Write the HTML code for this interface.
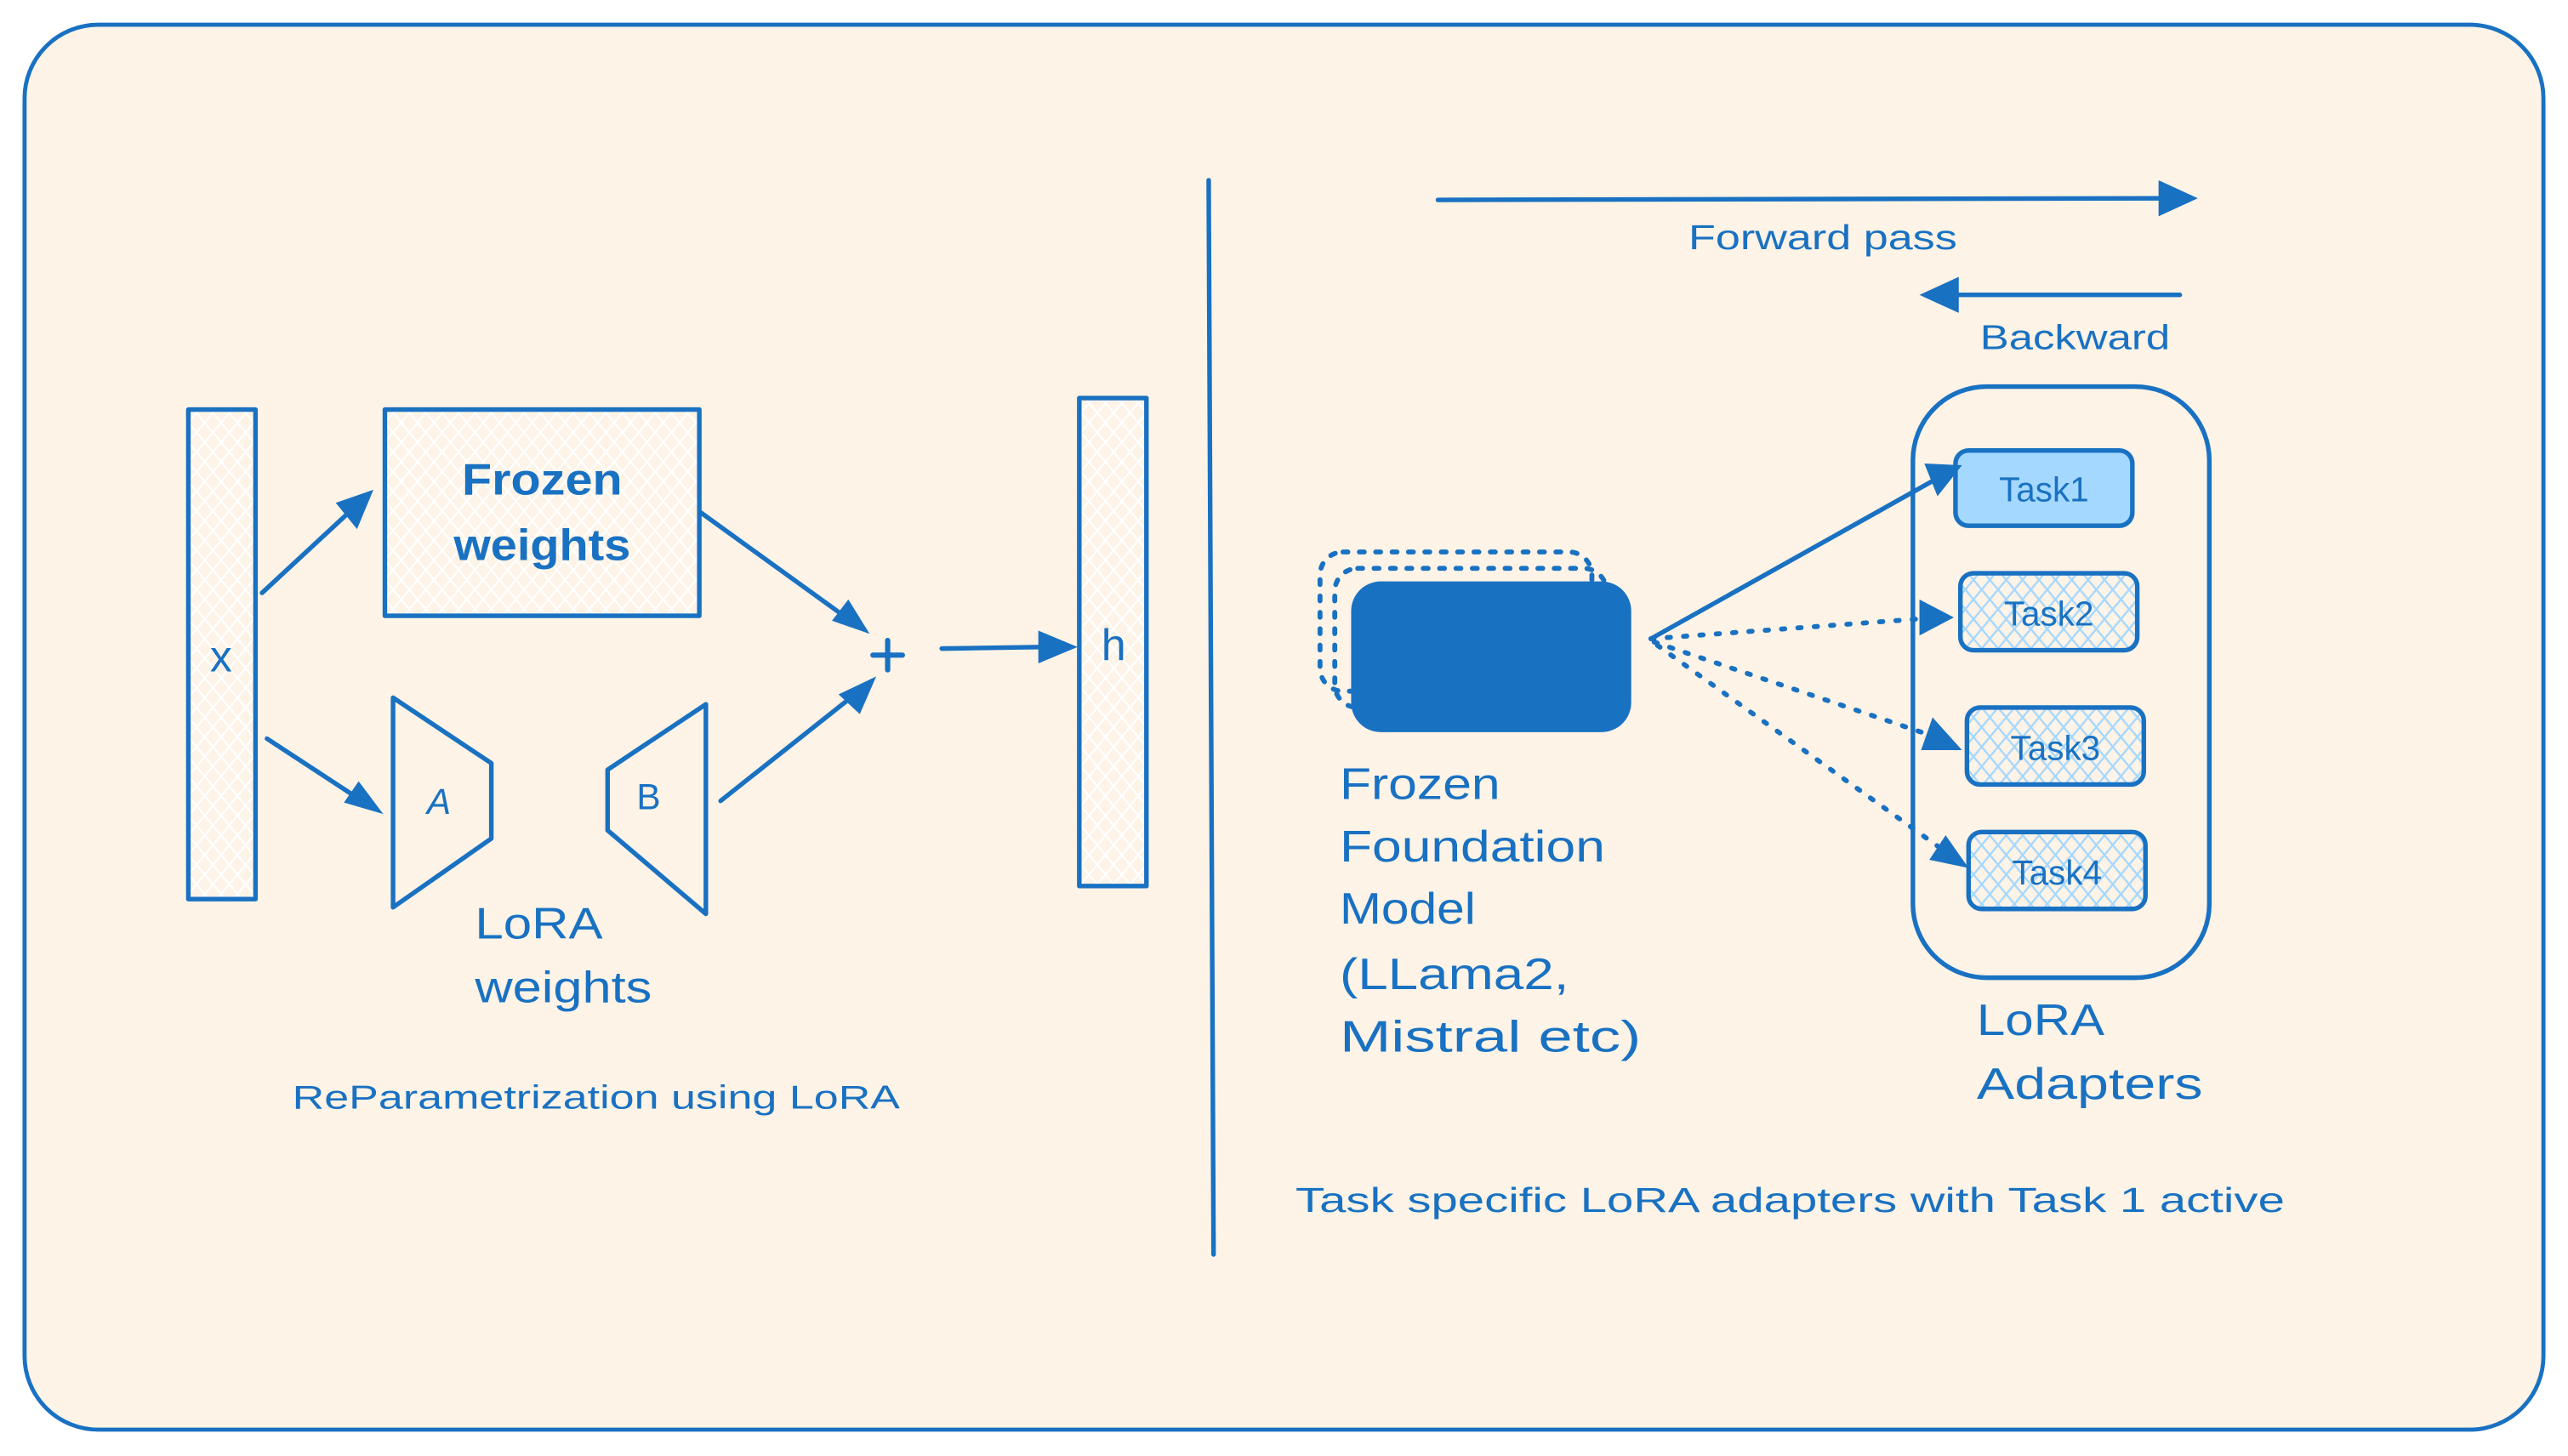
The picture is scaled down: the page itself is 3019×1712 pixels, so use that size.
<!DOCTYPE html>
<html><head><meta charset="utf-8"><style>
html,body{margin:0;padding:0;background:#fff;}
svg{display:block;}
text{font-family:"Liberation Sans","DejaVu Sans",sans-serif;fill:#1971c2;}
</style></head><body>
<svg width="3019" height="1712" viewBox="0 0 1568 889" xmlns="http://www.w3.org/2000/svg">
<defs>
<pattern id="h" width="10" height="12" patternUnits="userSpaceOnUse">
<rect width="10" height="12" fill="#fdf3e6"/>
<path d="M0,0 L10,12 M10,0 L0,12" stroke="#ffffff" stroke-width="1.2"/>
</pattern>
<pattern id="hb" width="10" height="12" patternUnits="userSpaceOnUse">
<rect width="10" height="12" fill="#fdf3e6"/>
<path d="M0,0 L10,12 M10,0 L0,12" stroke="#a5d8ff" stroke-width="1.2"/>
</pattern>
</defs>
<rect x="0" y="0" width="1568" height="889" fill="#ffffff"/>
<rect x="15" y="15" width="1538" height="858" rx="45" fill="#fdf3e6" stroke="#1971c2" stroke-width="2.5"/>
<g stroke="#1971c2" stroke-width="2.8" fill="none" stroke-linecap="round" stroke-linejoin="round">
<rect x="115" y="250" width="41" height="299" fill="url(#h)"/>
<rect x="235" y="250" width="192" height="126" fill="url(#h)"/>
<rect x="659" y="243" width="41" height="298" fill="url(#h)"/>
<path d="M240,426 L300,466 L300,512 L240,554 Z" fill="#fdf3e6"/>
<path d="M431,430 L371,470 L371,507 L431,558 Z" fill="#fdf3e6"/>
<line x1="160" y1="362" x2="215" y2="311"/>
<line x1="163" y1="451" x2="218" y2="487"/>
<line x1="428" y1="313" x2="518" y2="378"/>
<line x1="440" y1="489" x2="522" y2="424"/>
<line x1="575" y1="396" x2="640" y2="395"/>
<line x1="738" y1="110" x2="741" y2="766"/>
<line x1="878" y1="122" x2="1320" y2="121"/>
<line x1="1331" y1="180" x2="1195" y2="180"/>
<line x1="533" y1="400" x2="551" y2="400" stroke-width="3.2"/>
<line x1="542" y1="391" x2="542" y2="409" stroke-width="3.2"/>
<rect x="1168" y="236" width="181" height="361" rx="45"/>
<rect x="1194" y="275" width="108" height="46" rx="8" fill="#a5d8ff"/>
<rect x="1197" y="350" width="108" height="47" rx="8" fill="url(#hb)"/>
<rect x="1201" y="432" width="108" height="47" rx="8" fill="url(#hb)"/>
<rect x="1202" y="508" width="108" height="47" rx="8" fill="url(#hb)"/>
<rect x="806" y="337" width="166" height="85" rx="14" stroke-dasharray="3,7" stroke-width="3"/>
<rect x="815" y="347" width="166" height="85" rx="14" stroke-dasharray="3,7" stroke-width="3"/>
<line x1="1008" y1="390" x2="1183" y2="292"/>
<path d="M1008,390 L1170,378 M1010,392 L1182,450 M1012,394 L1185,518" stroke-dasharray="2,8" stroke-width="3"/>
</g>
<rect x="825" y="355" width="171" height="92" rx="18" fill="#1971c2"/>
<g fill="#1971c2">
<polygon points="228,299 205,307 218,323"/>
<polygon points="234,497 210,490 219,477"/>
<polygon points="531,387 508,379 518,366"/>
<polygon points="535,413 525,436 512,424"/>
<polygon points="658,395 634,385 634,405"/>
<polygon points="1342,121 1318,110 1318,132"/>
<polygon points="1172,180 1196,169 1196,191"/>
<polygon points="1198,284 1175,283 1183,303"/>
<polygon points="1193,377 1172,366 1172,388"/>
<polygon points="1198,458 1180,438 1173,458"/>
<polygon points="1202,530 1188,510 1178,525"/>
</g>
<g font-size="27" text-anchor="middle" font-weight="bold">
<text x="331" y="302" textLength="98" lengthAdjust="spacingAndGlyphs">Frozen</text>
<text x="331" y="342" textLength="108" lengthAdjust="spacingAndGlyphs">weights</text>
<text x="135" y="410" font-weight="normal">x</text>
<text x="680" y="403" font-weight="normal">h</text>
<text x="268" y="497" font-size="22" font-style="italic" font-weight="normal">A</text>
<text x="396" y="494" font-size="22" font-weight="normal">B</text>
</g>
<g font-size="27">
<text x="290" y="573" textLength="78" lengthAdjust="spacingAndGlyphs">LoRA</text>
<text x="290" y="612" textLength="108" lengthAdjust="spacingAndGlyphs">weights</text>
<text x="818" y="488" textLength="98" lengthAdjust="spacingAndGlyphs">Frozen</text>
<text x="818" y="526" textLength="162" lengthAdjust="spacingAndGlyphs">Foundation</text>
<text x="818" y="564" textLength="83" lengthAdjust="spacingAndGlyphs">Model</text>
<text x="818" y="604" textLength="140" lengthAdjust="spacingAndGlyphs">(LLama2,</text>
<text x="818" y="642" textLength="184" lengthAdjust="spacingAndGlyphs">Mistral etc)</text>
<text x="1207" y="632" textLength="78" lengthAdjust="spacingAndGlyphs">LoRA</text>
<text x="1207" y="671" textLength="138" lengthAdjust="spacingAndGlyphs">Adapters</text>
</g>
<g font-size="21" text-anchor="middle">
<text x="1248" y="306">Task1</text>
<text x="1251" y="382">Task2</text>
<text x="1255" y="464">Task3</text>
<text x="1256" y="540">Task4</text>
<text x="1113" y="152" textLength="164" lengthAdjust="spacingAndGlyphs">Forward pass</text>
<text x="1267" y="213" textLength="116" lengthAdjust="spacingAndGlyphs">Backward</text>
<text x="364" y="677" font-size="20" textLength="371" lengthAdjust="spacingAndGlyphs">ReParametrization using LoRA</text>
<text x="1093" y="740" font-size="21" textLength="604" lengthAdjust="spacingAndGlyphs">Task specific LoRA adapters with Task 1 active</text>
</g>
</svg>
</body></html>
